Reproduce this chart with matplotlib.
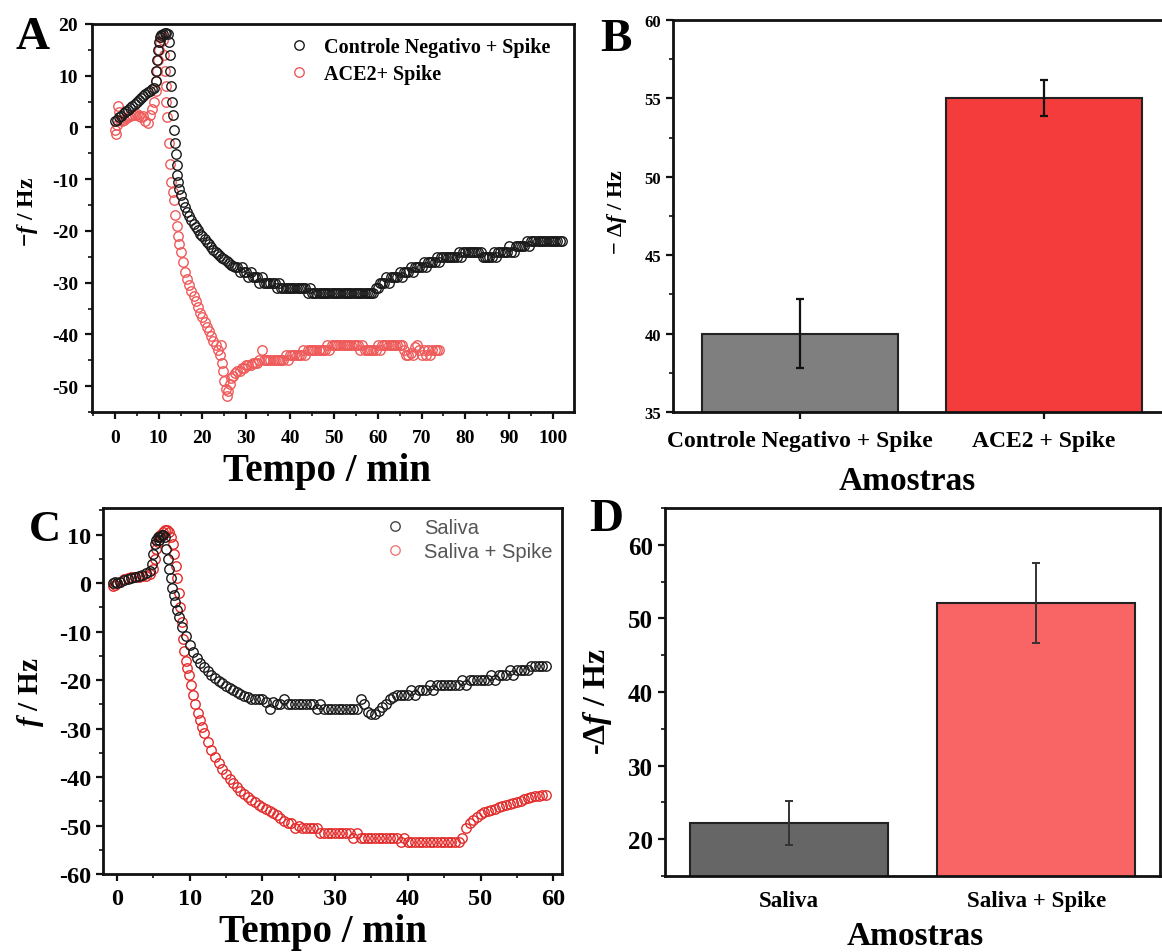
import numpy as np
import matplotlib
matplotlib.use("Agg")
import matplotlib.pyplot as plt
from matplotlib.ticker import MultipleLocator
from matplotlib.lines import Line2D

plt.rcParams['font.family'] = ['Liberation Serif', 'DejaVu Serif']
plt.rcParams['font.weight'] = 'bold'
plt.rcParams['mathtext.fontset'] = 'custom'
plt.rcParams['mathtext.it'] = 'Liberation Serif:italic:bold'
plt.rcParams['mathtext.rm'] = 'Liberation Serif:bold'
plt.rcParams['mathtext.bf'] = 'Liberation Serif:bold'
plt.rcParams['axes.unicode_minus'] = False

# ---------------- Panel A data ----------------
a_ctrl_label = "Controle Negativo + Spike"
a_ace_label = "ACE2+ Spike"

# (time, value) pairs for the fast-changing start of the control run
a_ctrl_fast = [(0.0, 1.2), (0.5, 1.5), (1.0, 2.0), (1.5, 2.3), (2.0, 2.7), (2.5, 3.1),
               (3.0, 3.4), (3.5, 3.8), (4.0, 4.2), (4.5, 4.5), (5.0, 4.9), (5.5, 5.3),
               (6.0, 5.6), (6.5, 6.0), (7.0, 6.4), (7.5, 6.8), (8.0, 7.1), (8.5, 7.4),
               (9.0, 7.6), (9.3, 9.0), (9.5, 11.0), (9.7, 13.0), (9.9, 15.0), (10.1, 16.5),
               (10.3, 17.5), (10.6, 17.9), (11.0, 18.0), (11.4, 18.2), (11.8, 18.3), (12.1, 18.1),
               (12.3, 16.5), (12.5, 14.0), (12.7, 11.0), (12.9, 8.0), (13.1, 5.0), (13.3, 2.5),
               (13.5, -0.5), (13.7, -3.0), (13.9, -5.2), (14.1, -7.3), (14.3, -9.2), (14.5, -10.6),
               (14.7, -11.8), (15.0, -13.0)]
# slow part, sampled every 0.5 min starting at 15.5 min
a_ctrl_slow_t0 = 15.5
a_ctrl_slow = [
    -14.4, -15.4, -16.3, -17.1, -17.9, -18.6, -19.3, -19.9, -20.5, -21.0,
    -21.6, -22.1, -22.6, -23.1, -23.6, -24.0, -24.4, -24.8, -25.2, -25.5,
    -25.9, -26.2, -26.5, -26.8, -27.0, -27.0, -28.0, -27.0, -28.0, -28.0,
    -29, -28, -29, -29, -29, -30, -29, -30, -30, -30,
    -30, -30, -30, -31, -30, -31, -31, -31, -31, -31,
    -31, -31, -31, -31, -31, -31, -31, -32, -31, -32,
    -32, -32, -32, -32, -32, -32, -32, -32, -32, -32,
    -32, -32, -32, -32, -32, -32, -32, -32, -32, -32,
    -32, -32, -32, -32, -32, -32, -32, -32, -31, -31,
    -30, -30, -30, -29, -30, -29, -29, -29, -29, -28,
    -29, -28, -28, -28, -27, -28, -27, -27, -27, -27,
    -26, -27, -26, -26, -26, -26, -25, -26, -25, -25,
    -25, -25, -25, -25, -25, -25, -24, -25, -24, -24,
    -24, -24, -24, -24, -24, -24, -24, -25, -25, -25,
    -25, -25, -24, -25, -24, -24, -24, -24, -24, -23,
    -24, -24, -23, -23, -23, -23, -23, -22, -23, -22,
    -22, -22, -22, -22, -22, -22, -22, -22, -22, -22,
    -22, -22, -22, -22]

a_ace_fast = [(0.0, -0.5), (0.2, -1.3), (0.5, 0.5), (0.8, 4.2), (1.0, 3.0), (1.3, 1.5),
              (1.6, 1.2), (2.0, 1.5), (2.5, 1.8), (3.0, 2.0), (3.5, 2.2), (4.0, 2.4),
              (4.5, 2.5), (5.0, 2.6), (5.5, 2.3), (6.0, 2.0), (6.5, 2.2), (7.0, 1.2),
              (7.5, 0.8), (8.0, 2.5), (8.5, 3.5), (9.0, 5.0), (9.3, 7.0), (9.5, 9.0),
              (9.7, 11.0), (9.9, 13.0), (10.1, 15.0), (10.3, 16.5), (10.5, 17.5), (10.8, 17.8),
              (11.0, 17.0), (11.2, 14.0), (11.4, 11.0), (11.6, 8.0), (11.8, 5.0), (12.0, 2.0),
              (12.3, -3.0), (12.6, -7.0), (12.9, -10.5), (13.2, -12.5), (13.5, -14.0), (13.8, -17.0),
              (14.1, -19.0), (14.4, -21.0), (14.7, -22.6), (15.0, -24.0), (15.5, -26.0), (16.0, -28.0),
              (16.5, -29.3), (17.0, -30.5), (17.5, -31.6), (18.0, -32.6), (18.5, -33.6), (19.0, -34.8),
              (19.5, -35.8), (20.0, -36.7), (20.5, -37.6), (21.0, -38.5), (21.5, -39.4), (22.0, -40.3),
              (22.5, -41.2), (23.0, -42.0), (23.5, -43.0), (24.0, -44.0), (24.3, -42.0), (24.5, -45.5),
              (24.8, -47.0), (25.0, -49.0), (25.3, -50.5), (25.6, -52.0), (25.9, -51.0), (26.2, -49.5),
              (26.5, -48.5)]
a_ace_slow_t0 = 27.0
a_ace_slow = [
    -48, -47.5, -47, -47, -46.5, -46.5, -46, -46, -46, -45.5,
    -45.5, -45.5, -45, -43, -45, -45, -45, -45, -45, -45,
    -45, -45, -45, -45, -44, -45, -44, -44, -44, -44,
    -44, -44, -43, -44, -43, -43, -43, -43, -43, -43,
    -43, -43, -43, -42, -43, -42, -42, -42, -42, -42,
    -42, -42, -42, -42, -42, -42, -42, -42, -43, -42,
    -43, -43, -43, -43, -43, -43, -42, -43, -42, -42,
    -42, -42, -42, -42, -42, -42, -42, -42, -43, -44,
    -44, -43.5, -44, -42.5, -42, -43, -44, -43, -44, -43,
    -44, -43, -43, -43, -43]

# ---------------- Panel B data ----------------
b_categories = ["Controle Negativo + Spike", "ACE2 + Spike"]
b_values = [40.0, 55.0]
b_errors = [2.2, 1.15]

# ---------------- Panel C data ----------------
c_sal_label = "Saliva"
c_spk_label = "Saliva + Spike"

c_sal_fast = [(-0.5, 0.0), (-0.2, 0.2), (0.0, 0.0), (0.5, 0.3), (1.0, 0.6), (1.5, 0.9),
              (2.0, 1.1), (2.5, 1.3), (3.0, 1.5), (3.5, 1.7), (4.0, 2.0), (4.5, 2.5),
              (4.8, 4.0), (5.0, 6.0), (5.2, 8.0), (5.4, 9.0), (5.6, 9.5), (5.8, 9.0),
              (6.0, 9.5), (6.2, 10.0), (6.4, 10.0), (6.6, 9.5), (6.8, 7.0), (7.0, 5.0),
              (7.2, 3.0), (7.4, 1.0), (7.6, -1.0), (7.8, -2.5), (8.0, -3.8), (8.3, -5.5),
              (8.6, -7.0), (9.0, -9.0), (9.5, -11.0), (10.0, -12.8), (10.5, -14.2), (11.0, -15.5),
              (11.5, -16.5), (12.0, -17.4)]
c_sal_slow_t0 = 12.5
c_sal_slow = [
    -18.2, -18.9, -19.5, -20.1, -20.7, -21.2, -21.6, -22.0, -22.4, -22.8,
    -23.2, -23.5, -23.8, -24.0, -24.0, -24.0, -24.5, -26.0, -24.5, -25.0,
    -25, -24, -25, -25, -25, -25, -25, -25, -25, -25,
    -26, -25, -26, -26, -26, -26, -26, -26, -26, -26,
    -26, -26, -24, -25, -26.5, -27, -27, -26.3, -25.5, -25,
    -24, -23.5, -23, -23, -23, -23, -22, -23, -22, -22,
    -22, -21, -22, -21, -21, -21, -21, -21, -21, -21,
    -20, -21, -20, -20, -20, -20, -20, -20, -19, -20,
    -19, -19, -19, -18, -19, -18, -18, -18, -18, -17,
    -17, -17, -17, -17]

c_spk_fast = [(-0.5, -0.5), (-0.3, -0.3), (0.0, 0.0), (0.5, 0.3), (1.0, 0.8), (1.5, 1.0),
              (2.0, 1.2), (2.5, 1.2), (3.0, 1.3), (3.5, 1.4), (4.0, 1.5), (4.5, 1.8),
              (5.0, 3.0), (5.2, 5.0), (5.4, 7.0), (5.6, 8.5), (5.8, 9.5), (6.0, 10.0),
              (6.3, 10.5), (6.6, 11.0), (6.9, 11.0), (7.2, 10.5), (7.5, 9.5), (7.7, 8.0),
              (7.9, 6.0), (8.1, 3.5), (8.3, 1.0), (8.5, -2.0), (8.7, -5.0), (8.9, -8.0),
              (9.1, -11.5), (9.3, -14.0), (9.5, -16.0), (9.7, -17.5), (9.9, -19.0), (10.2, -21.0),
              (10.5, -23.0), (10.8, -25.0), (11.1, -26.8), (11.4, -28.3), (11.7, -29.7), (12.0, -31.0)]
c_spk_slow_t0 = 12.5
c_spk_slow = [
    -32.8, -34.4, -35.8, -37.1, -38.3, -39.4, -40.4, -41.3, -42.1, -42.8,
    -43.5, -44.1, -44.7, -45.2, -45.7, -46.2, -46.6, -47.0, -47.4, -47.8,
    -48.5, -49.0, -49.5, -49.5, -50.5, -50.0, -50.5, -50.5, -50.5, -50.5,
    -50.5, -51.5, -51.5, -51.5, -51.5, -51.5, -51.5, -51.5, -51.5, -51.5,
    -52.5, -51.5, -52.5, -52.5, -52.5, -52.5, -52.5, -52.5, -52.5, -52.5,
    -52.5, -52.5, -52.5, -53.5, -52.5, -53.5, -53.5, -53.5, -53.5, -53.5,
    -53.5, -53.5, -53.5, -53.5, -53.5, -53.5, -53.5, -53.5, -53.5, -53.5,
    -52.5, -50.5, -49.5, -48.8, -48.2, -47.7, -47.3, -47.0, -46.7, -46.5,
    -46.2, -46.0, -45.8, -45.5, -45.3, -45.1, -44.9, -44.6, -44.4, -44.2,
    -44.0, -44.0, -43.8, -43.8]

# ---------------- Panel D data ----------------
d_categories = ["Saliva", "Saliva + Spike"]
d_values = [22.2, 52.1]
d_errors = [3.0, 5.45]


def series(fast, t0, slow, dt=0.5):
    ft = [p[0] for p in fast]
    fv = [p[1] for p in fast]
    st = list(t0 + dt * np.arange(len(slow)))
    return np.array(ft + st), np.array(fv + list(slow))


W, H = 1162, 953
fig = plt.figure(figsize=(W / 100, H / 100), dpi=100)


def ax_at(l, t, r, b):
    return fig.add_axes([l / W, 1 - b / H, (r - l) / W, (b - t) / H])


axA = ax_at(92, 25, 574, 413)
axB = ax_at(673, 21, 1176, 413)
axC = ax_at(103, 509, 562, 875)
axD = ax_at(665, 509, 1160, 877)

for ax in (axA, axB, axC, axD):
    for sp in ax.spines.values():
        sp.set_linewidth(2.0)
        sp.set_color('#111111')
    ax.tick_params(which='major', direction='out', length=5, width=1.6, color='#111111')
    ax.tick_params(which='minor', direction='out', length=3, width=1.2, color='#111111')

BLACK = '#1a1a1a'
RED_A = '#ef5a5a'
RED_C = '#e32b2b'
mk = dict(linestyle='none', marker='o', markerfacecolor='none', markersize=6.8, markeredgewidth=1.0)

# ---- A ----
t1, v1 = series(a_ctrl_fast, a_ctrl_slow_t0, a_ctrl_slow)
t2, v2 = series(a_ace_fast, a_ace_slow_t0, a_ace_slow)
axA.plot(t2, v2, markeredgecolor=RED_A, zorder=2, **mk)
axA.plot(t1, v1, markeredgecolor=BLACK, zorder=3, **mk)
axA.set_xlim(-5.2, 104.8)
axA.set_ylim(-55, 20)
axA.xaxis.set_major_locator(MultipleLocator(10))
axA.xaxis.set_minor_locator(MultipleLocator(5))
axA.yaxis.set_major_locator(MultipleLocator(10))
axA.yaxis.set_minor_locator(MultipleLocator(5))
axA.tick_params(axis='x', which='major', pad=7)
axA.tick_params(axis='y', which='major', pad=5)
for lab in axA.get_xticklabels() + axA.get_yticklabels():
    lab.set_fontsize(14)
hA = [Line2D([], [], markeredgecolor=BLACK, **mk), Line2D([], [], markeredgecolor=RED_A, **mk)]
axA.legend(hA, [a_ctrl_label, a_ace_label], loc='upper left',
           bbox_to_anchor=((289 - 92) / 482, 1 - (38 - 25) / 388), frameon=False,
           prop=dict(family='Liberation Serif', weight='bold', size=14.5),
           handletextpad=0.75, borderaxespad=0, borderpad=0, labelspacing=0.35, handlelength=1.0)

# ---- B ----
xb = np.arange(len(b_categories))
axB.bar(xb, b_values, width=0.8, color=['#7f7f7f', '#f43c3c'], edgecolor='#222222', linewidth=1.5,
        yerr=b_errors, capsize=3, error_kw=dict(elinewidth=1.6, capthick=1.6, ecolor='#111111'), zorder=2)
axB.set_xlim(-0.52, 1.54)
axB.set_ylim(35, 60)
axB.yaxis.set_major_locator(MultipleLocator(5))
axB.yaxis.set_minor_locator(MultipleLocator(2.5))
axB.set_xticks(xb)
axB.set_xticklabels(b_categories, fontsize=17)
axB.tick_params(axis='x', which='major', pad=8)
for lab in axB.get_yticklabels():
    lab.set_fontsize(12)

# ---- C ----
t3, v3 = series(c_sal_fast, c_sal_slow_t0, c_sal_slow)
t4, v4 = series(c_spk_fast, c_spk_slow_t0, c_spk_slow)
axC.plot(t4, v4, markeredgecolor=RED_C, zorder=2, **mk)
axC.plot(t3, v3, markeredgecolor=BLACK, zorder=3, **mk)
axC.set_xlim(-1.9, 61.2)
axC.set_ylim(-60, 15.5)
axC.xaxis.set_major_locator(MultipleLocator(10))
axC.xaxis.set_minor_locator(MultipleLocator(5))
axC.yaxis.set_major_locator(MultipleLocator(10))
axC.yaxis.set_minor_locator(MultipleLocator(5))
axC.tick_params(axis='x', which='major', pad=5)
for lab in axC.get_xticklabels() + axC.get_yticklabels():
    lab.set_fontsize(17.5)
hC = [Line2D([], [], markeredgecolor='#444444', **mk), Line2D([], [], markeredgecolor='#f07a7a', **mk)]
legC = axC.legend(hC, [c_sal_label, c_spk_label], loc='upper left',
                  bbox_to_anchor=((385 - 103) / 459, 1 - (519 - 509) / 366), frameon=False,
                  prop=dict(family='Liberation Sans', weight='normal', size=14.5),
                  handletextpad=0.95, borderaxespad=0, borderpad=0, labelspacing=0.25, handlelength=1.0)
for tx in legC.get_texts():
    tx.set_color('#555555')

# ---- D ----
xd = np.arange(len(d_categories))
axD.bar(xd, d_values, width=0.8, color=['#666666', '#f96464'], edgecolor='#222222', linewidth=1.5,
        yerr=d_errors, capsize=3, error_kw=dict(elinewidth=1.4, capthick=1.4, ecolor='#333333'), zorder=2)
axD.set_xlim(-0.5, 1.5)
axD.set_ylim(15, 65)
axD.yaxis.set_major_locator(MultipleLocator(10))
axD.yaxis.set_minor_locator(MultipleLocator(5))
axD.set_xticks(xd)
axD.set_xticklabels(d_categories, fontsize=16.5)
axD.tick_params(axis='x', direction='in', length=4, pad=10)
for lab in axD.get_yticklabels():
    lab.set_fontsize(18)

# ---- axis labels and panel letters ----
def ftext(x, y, s, **kw):
    fig.text(x / W, 1 - y / H, s, ha='center', va='center', **kw)

ftext(327, 472, "Tempo / min", fontsize=28)
ftext(28, 212, r"$-f$ / Hz", fontsize=17, rotation=90)
ftext(907, 482, "Amostras", fontsize=24)
ftext(617, 212, r"$-\ \mathit{\Delta f}$ / Hz", fontsize=16, rotation=90)
ftext(323, 933, "Tempo / min", fontsize=28)
ftext(30, 692, r"$f$ / Hz", fontsize=21, rotation=90)
ftext(915, 937, "Amostras", fontsize=24)
ftext(597, 702, r"-$\mathit{\Delta f}$ / Hz", fontsize=23, rotation=90)

ftext(33, 38, "A", fontsize=34)
ftext(616, 40, "B", fontsize=34)
ftext(45, 530, "C", fontsize=32)
ftext(606, 520, "D", fontsize=34)

fig.savefig("out.png", dpi=100)
